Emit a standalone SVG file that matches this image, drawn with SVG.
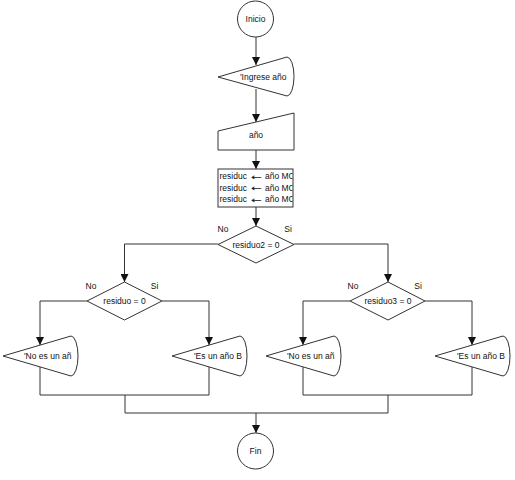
<svg xmlns="http://www.w3.org/2000/svg" width="515" height="480" viewBox="0 0 515 480">
<style>
.s{fill:#fff;stroke:#333;stroke-width:1}
.c{fill:none;stroke:#333;stroke-width:1}
.t{font-family:"Liberation Sans",Arial,sans-serif;font-size:8.5px;fill:#111}
.m{text-anchor:middle}
.ar{font-family:"DejaVu Sans",sans-serif;font-size:8.5px;fill:#111}
</style>
<defs>
<marker id="ah" markerUnits="userSpaceOnUse" markerWidth="8" markerHeight="8" refX="4" refY="8" orient="0" viewBox="0 0 8 8">
<path d="M0,0 L8,0 L4,8 Z" fill="#111"/>
</marker>
<clipPath id="pc"><rect x="218" y="169" width="74.5" height="38"/></clipPath>
</defs>
<rect width="515" height="480" fill="#fff"/>
<g id="connectors">
<path class="c" d="M256,37 V65" marker-end="url(#ah)"/>
<path class="c" d="M256,89 V122" marker-end="url(#ah)"/>
<path class="c" d="M256,150 V169" marker-end="url(#ah)"/>
<path class="c" d="M256,207 V226" marker-end="url(#ah)"/>
<path class="c" d="M218,244 H124.5 V282" marker-end="url(#ah)"/>
<path class="c" d="M294,244 H388 V282" marker-end="url(#ah)"/>
<path class="c" d="M87,301 H40 V345" marker-end="url(#ah)"/>
<path class="c" d="M162,301 H209 V345" marker-end="url(#ah)"/>
<path class="c" d="M350,301 H303 V345" marker-end="url(#ah)"/>
<path class="c" d="M425,301 H472 V345" marker-end="url(#ah)"/>
<path class="c" d="M40,367 V395 H209 V367"/>
<path class="c" d="M303,367 V395 H472 V367"/>
<path class="c" d="M125,395 V413 H388 V395"/>
<path class="c" d="M256,413 V433" marker-end="url(#ah)"/>
</g>
<g id="inicio">
<circle class="s" cx="255.5" cy="19" r="18"/>
<text class="t m" x="255.5" y="22">Inicio</text>
</g>
<g id="ingrese">
<path class="s" d="M218,77 L287,57 A7,19.5 0 0 1 287,96 Z"/>
<text class="t" x="240" y="80">'Ingrese año</text>
</g>
<g id="leer">
<path class="s" d="M218,131 L294,113 L294,150 L218,150 Z"/>
<text class="t m" x="256" y="138">año</text>
</g>
<g id="proceso">
<rect class="s" x="218" y="169" width="75" height="38"/>
<g clip-path="url(#pc)">
<text class="t" x="219.5" y="179">residuc</text>
<text class="ar" x="250.5" y="179.5" textLength="11" lengthAdjust="spacingAndGlyphs">←</text>
<text class="t" x="265" y="179">año MC</text>
<text class="t" x="219.5" y="190.5">residuc</text>
<text class="ar" x="250.5" y="191" textLength="11" lengthAdjust="spacingAndGlyphs">←</text>
<text class="t" x="265" y="190.5">año MC</text>
<text class="t" x="219.5" y="202">residuc</text>
<text class="ar" x="250.5" y="202.5" textLength="11" lengthAdjust="spacingAndGlyphs">←</text>
<text class="t" x="265" y="202">año MC</text>
</g>
</g>
<g id="decision1">
<path class="s" d="M256,226 L294,244.5 L256,263 L218,244.5 Z"/>
<text class="t m" x="256" y="247.5">residuo2 = 0</text>
<text class="t m" x="223" y="232">No</text>
<text class="t m" x="288" y="232">Si</text>
</g>
<g id="decision2">
<path class="s" d="M124.5,282 L162,301 L124.5,320 L87,301 Z"/>
<text class="t m" x="124.5" y="304">residuo = 0</text>
<text class="t m" x="91" y="289">No</text>
<text class="t m" x="154.5" y="289">Si</text>
</g>
<g id="decision3">
<path class="s" d="M388,282 L425,301 L388,320 L350,301 Z"/>
<text class="t m" x="388" y="304">residuo3 = 0</text>
<text class="t m" x="353" y="289">No</text>
<text class="t m" x="418" y="289">Si</text>
</g>
<g id="salida1">
<path class="s" d="M3,356 L71,336 A7,20 0 0 1 71,376 Z"/>
<text class="t" x="24" y="359">'No es un añ</text>
</g>
<g id="salida2">
<path class="s" d="M172,356 L240,336 A7,20 0 0 1 240,376 Z"/>
<text class="t" x="194" y="359">'Es un año B</text>
</g>
<g id="salida3">
<path class="s" d="M266,356 L334,336 A7,20 0 0 1 334,376 Z"/>
<text class="t" x="287" y="359">'No es un añ</text>
</g>
<g id="salida4">
<path class="s" d="M435,356 L503,336 A7,20 0 0 1 503,376 Z"/>
<text class="t" x="457" y="359">'Es un año B</text>
</g>
<g id="fin">
<circle class="s" cx="255.5" cy="451" r="18"/>
<text class="t m" x="255.5" y="454">Fin</text>
</g>
</svg>
